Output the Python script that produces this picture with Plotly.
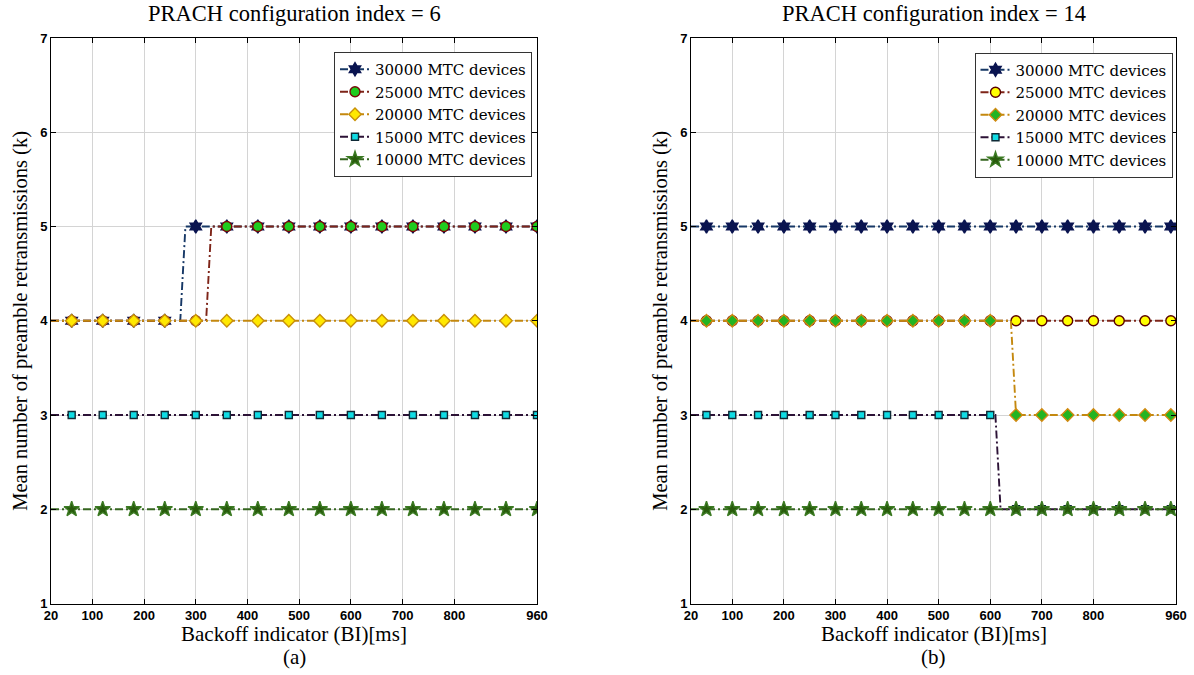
import plotly.graph_objects as go

# ---------------- data ----------------
x_tickvals = [20, 100, 200, 300, 400, 500, 600, 700, 800, 960]
y_tickvals = [1, 2, 3, 4, 5, 6, 7]
series_labels = ["30000 MTC devices", "25000 MTC devices", "20000 MTC devices",
                 "15000 MTC devices", "10000 MTC devices"]
panel_titles = ["PRACH configuration index = 6", "PRACH configuration index = 14"]
panel_tags = ["(a)", "(b)"]

# panel (a): markers every 60 ms
a_marker_x = [60, 120, 180, 240, 300, 360, 420, 480, 540, 600, 660, 720, 780, 840, 900, 960]
a_y_30000 = [4, 4, 4, 4, 5, 5, 5, 5, 5, 5, 5, 5, 5, 5, 5, 5]
a_y_25000 = [4, 4, 4, 4, 4, 5, 5, 5, 5, 5, 5, 5, 5, 5, 5, 5]
a_y_20000 = [4, 4, 4, 4, 4, 4, 4, 4, 4, 4, 4, 4, 4, 4, 4, 4]
a_y_15000 = [3, 3, 3, 3, 3, 3, 3, 3, 3, 3, 3, 3, 3, 3, 3, 3]
a_y_10000 = [2, 2, 2, 2, 2, 2, 2, 2, 2, 2, 2, 2, 2, 2, 2, 2]
a_line_x_30000 = [20, 270, 280, 960]
a_line_y_30000 = [4, 4, 5, 5]
a_line_x_25000 = [20, 320, 330, 960]
a_line_y_25000 = [4, 4, 5, 5]
a_line_x_20000 = [20, 960]
a_line_y_20000 = [4, 4]
a_line_x_15000 = [20, 960]
a_line_y_15000 = [3, 3]
a_line_x_10000 = [20, 960]
a_line_y_10000 = [2, 2]

# panel (b): markers every 50 ms
b_marker_x = [50, 100, 150, 200, 250, 300, 350, 400, 450, 500, 550, 600,
              650, 700, 750, 800, 850, 900, 950]
b_y_30000 = [5] * 19
b_y_25000 = [4] * 19
b_y_20000 = [4, 4, 4, 4, 4, 4, 4, 4, 4, 4, 4, 4, 3, 3, 3, 3, 3, 3, 3]
b_y_15000 = [3, 3, 3, 3, 3, 3, 3, 3, 3, 3, 3, 3, 2, 2, 2, 2, 2, 2, 2]
b_y_10000 = [2] * 19
b_line_x_30000 = [20, 960]
b_line_y_30000 = [5, 5]
b_line_x_25000 = [20, 960]
b_line_y_25000 = [4, 4]
b_line_x_20000 = [20, 640, 650, 960]
b_line_y_20000 = [4, 4, 3, 3]
b_line_x_15000 = [20, 610, 620, 960]
b_line_y_15000 = [3, 3, 2, 2]
b_line_x_10000 = [20, 960]
b_line_y_10000 = [2, 2]

# ---------------- styles ----------------
SERIF = "Liberation Serif"
LEG_SERIF = "DejaVu Serif"
SANS = "Liberation Sans"
DASH = "8px,3px,2px,3px"
LW = 1.9

line_colors = ["#173866", "#7e2418", "#c4880f", "#2c1236", "#35651f"]
symbols = ["hexagram", "circle", "diamond", "square", "star"]
sizes = [10, 10, 9.5, 7, 11.5]
a_fill = ["#0a1450", "#1fcc1f", "#ffe800", "#10dce4", "#285a0c"]
a_edge = ["#0a1450", "#780808", "#c8900a", "#0e2a36", "#3b7a22"]
b_fill = ["#0a1450", "#ffff00", "#22b422", "#10dce4", "#285a0c"]
b_edge = ["#0a1450", "#5a0000", "#d08a10", "#0e2a36", "#3b7a22"]

panels = [
    dict(mx=a_marker_x,
         my=[a_y_30000, a_y_25000, a_y_20000, a_y_15000, a_y_10000],
         lx=[a_line_x_30000, a_line_x_25000, a_line_x_20000, a_line_x_15000, a_line_x_10000],
         ly=[a_line_y_30000, a_line_y_25000, a_line_y_20000, a_line_y_15000, a_line_y_10000],
         fill=a_fill, edge=a_edge, xa="x", ya="y", legend="legend"),
    dict(mx=b_marker_x,
         my=[b_y_30000, b_y_25000, b_y_20000, b_y_15000, b_y_10000],
         lx=[b_line_x_30000, b_line_x_25000, b_line_x_20000, b_line_x_15000, b_line_x_10000],
         ly=[b_line_y_30000, b_line_y_25000, b_line_y_20000, b_line_y_15000, b_line_y_10000],
         fill=b_fill, edge=b_edge, xa="x2", ya="y2", legend="legend2"),
]

fig = go.Figure()
for p in panels:
    # legend entries (dummy traces)
    for i, lab in enumerate(series_labels):
        fig.add_trace(go.Scatter(
            x=[None], y=[None], mode="lines+markers", name=lab,
            line=dict(color=line_colors[i], width=LW, dash=DASH),
            marker=dict(symbol=symbols[i], size=sizes[i], color=p["fill"][i],
                        line=dict(color=p["edge"][i], width=1.4)),
            xaxis=p["xa"], yaxis=p["ya"], legend=p["legend"], showlegend=True))
    for i, lab in enumerate(series_labels):
        fig.add_trace(go.Scatter(
            x=p["lx"][i], y=p["ly"][i], mode="lines", name=lab,
            line=dict(color=line_colors[i], width=LW, dash=DASH),
            xaxis=p["xa"], yaxis=p["ya"], showlegend=False, hoverinfo="skip"))
        fig.add_trace(go.Scatter(
            x=p["mx"], y=p["my"][i], mode="markers", name=lab,
            marker=dict(symbol=symbols[i], size=sizes[i], color=p["fill"][i],
                        line=dict(color=p["edge"][i], width=1.4)),
            xaxis=p["xa"], yaxis=p["ya"], showlegend=False))

W, H = 1194, 675
x_domains = [[51 / W, 537 / W], [691 / W, 1176 / W]]
y_domain = [1 - 603.5 / H, 1 - 38 / H]

axis_common = dict(
    showline=True, linecolor="black", linewidth=1, mirror="ticks",
    ticks="inside", ticklen=5, tickcolor="black",
    showgrid=True, gridcolor="#d4d4d4", gridwidth=1, zeroline=False,
    tickfont=dict(family=SANS, size=13, color="black", weight="bold"),
    automargin=False,
)

legend_common = dict(xanchor="right", yanchor="top",
                     bgcolor="white", bordercolor="#333333", borderwidth=1,
                     font=dict(family=LEG_SERIF, size=15, color="black"),
                     tracegroupgap=0)

fig.update_layout(
    width=W, height=H,
    margin=dict(l=0, r=0, t=0, b=0, pad=0, autoexpand=False),
    paper_bgcolor="white", plot_bgcolor="white",
    xaxis=dict(domain=x_domains[0], range=[20, 960], tickvals=x_tickvals, anchor="y", **axis_common),
    yaxis=dict(domain=y_domain, range=[1, 7], tickvals=y_tickvals, anchor="x", **axis_common),
    xaxis2=dict(domain=x_domains[1], range=[20, 960], tickvals=x_tickvals, anchor="y2", **axis_common),
    yaxis2=dict(domain=y_domain, range=[1, 7], tickvals=y_tickvals, anchor="x2", **axis_common),
    legend=dict(x=532 / W, y=1 - 52 / H, **legend_common),
    legend2=dict(x=1172.5 / W, y=1 - 52.5 / H, **legend_common),
    showlegend=True,
)

annotations = []
for k in range(2):
    cx = (x_domains[k][0] + x_domains[k][1]) / 2
    annotations.append(dict(text=panel_titles[k], x=cx, y=1 - 13 / H, xref="paper", yref="paper",
                            showarrow=False, xanchor="center", yanchor="middle",
                            font=dict(family=SERIF, size=22.5, color="black")))
    annotations.append(dict(text="Backoff indicator (BI)[ms]", x=cx, y=1 - 634 / H,
                            xref="paper", yref="paper", showarrow=False,
                            xanchor="center", yanchor="middle",
                            font=dict(family=SERIF, size=21, color="black")))
    annotations.append(dict(text=panel_tags[k], x=cx, y=1 - 657 / H,
                            xref="paper", yref="paper", showarrow=False,
                            xanchor="center", yanchor="middle",
                            font=dict(family=SERIF, size=21, color="black")))
    annotations.append(dict(text="Mean number of preamble retransmissions (k)",
                            x=(x_domains[k][0] * W - 30) / W, y=(y_domain[0] + y_domain[1]) / 2,
                            xref="paper", yref="paper", showarrow=False, textangle=-90,
                            xanchor="center", yanchor="middle",
                            font=dict(family=SERIF, size=20.5, color="black")))
fig.update_layout(annotations=annotations)

fig.write_html("out.html", config={"displayModeBar": False},
               post_script="document.body.style.margin='0px';document.body.style.padding='0px';")
